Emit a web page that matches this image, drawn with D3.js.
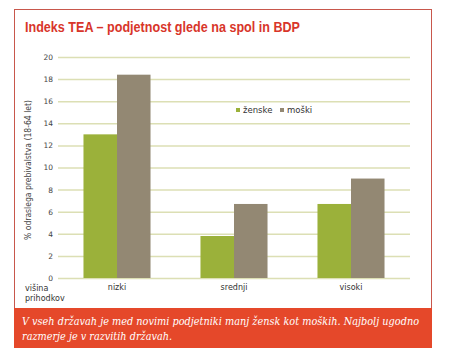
<!DOCTYPE html>
<html><head><meta charset="utf-8">
<script src="https://cdn.jsdelivr.net/npm/d3@7/dist/d3.min.js"></script>
<style>body{margin:0;background:#fff}svg{display:block}</style>
</head><body>
<svg id="c" width="450" height="362"></svg>
<script>
const categories = ["nizki", "srednji", "visoki"];
const seriesNames = ["ženske", "moški"];
const zenske = [13.0, 3.8, 6.7];
const moski = [18.4, 6.7, 9.0];
const yTicks = [0, 2, 4, 6, 8, 10, 12, 14, 16, 18, 20];
const colors = ["#9bb13a", "#938873"];

const svg = d3.select("#c");
// frame
svg.append("rect").attr("x", 14.5).attr("y", 9.5).attr("width", 417).attr("height", 338)
  .attr("fill", "#fff").attr("stroke", "#c8574c").attr("stroke-width", 1);
svg.append("rect").attr("x", 14).attr("y", 308).attr("width", 418).attr("height", 40)
  .attr("fill", "#e5482a");

svg.append("text").attr("x", 25).attr("y", 32)
  .attr("font-family", "'Liberation Sans',Arial,sans-serif")
  .attr("font-weight", "bold").attr("font-size", 15.5).attr("fill", "#d8352a")
  .attr("textLength", 275).attr("lengthAdjust", "spacingAndGlyphs")
  .text("Indeks TEA – podjetnost glede na spol in BDP");

const y = d3.scaleLinear().domain([0, 20]).range([278, 57]);
const x0 = d3.scaleBand().domain(categories).range([58.5, 409.5]).paddingInner(0.427).paddingOuter(0.2135);
const x1 = d3.scaleBand().domain(seriesNames).range([0, x0.bandwidth()]);

const grid = svg.append("g");
grid.selectAll("line").data(yTicks).join("line")
  .attr("x1", 58).attr("x2", 410)
  .attr("y1", d => y(d) + 0.5).attr("y2", d => y(d) + 0.5)
  .attr("stroke", "#dcdfb4").attr("stroke-width", 1.5);

const yAxis = d3.axisLeft(y).tickValues(yTicks).tickSize(0).tickPadding(0);
const ya = svg.append("g").attr("transform", "translate(53,0)").call(yAxis);
ya.select(".domain").remove();
ya.selectAll("text").attr("font-family", "'DejaVu Sans',sans-serif").attr("font-size", 7.5).attr("fill", "#444");

const data = categories.map((c, i) => ({c, vals: [zenske[i], moski[i]]}));
const groups = svg.append("g").selectAll("g").data(data).join("g")
  .attr("transform", d => `translate(${x0(d.c)},0)`);
groups.selectAll("rect").data(d => d.vals.map((v, j) => ({name: seriesNames[j], v, j}))).join("rect")
  .attr("x", d => x1(d.name)).attr("width", x1.bandwidth())
  .attr("y", d => y(d.v)).attr("height", d => y(0) - y(d.v))
  .attr("fill", d => colors[d.j]);

const xAxis = d3.axisBottom(x0).tickSize(0).tickPadding(0);
const xa = svg.append("g").attr("transform", "translate(0,284)").call(xAxis);
xa.select(".domain").remove();
xa.selectAll("text").attr("font-family", "'DejaVu Sans',sans-serif").attr("font-size", 8).attr("fill", "#333");

const small = {"font-family": "'DejaVu Sans',sans-serif", "font-size": 8, "fill": "#333"};
function txt(xp, yp, s, opts = {}) {
  const t = svg.append("text").attr("x", xp).attr("y", yp).text(s);
  Object.entries({...small, ...opts}).forEach(([k, v]) => t.attr(k, v));
  return t;
}
txt(25, 291, "višina");
txt(25, 301, "prihodkov");

svg.append("text").attr("transform", "translate(31,170) rotate(-90)")
  .attr("text-anchor", "middle").attr("font-family", "'DejaVu Sans',sans-serif")
  .attr("font-size", 8).attr("fill", "#444")
  .attr("textLength", 140).attr("lengthAdjust", "spacingAndGlyphs")
  .text("% odraslega prebivalstva (18-64 let)");

// legend
const leg = svg.append("g").attr("transform", "translate(236,108)");
const legX = [0, 44];
seriesNames.forEach((n, i) => {
  leg.append("rect").attr("x", legX[i]).attr("y", 0).attr("width", 4).attr("height", 4).attr("fill", colors[i]);
  leg.append("text").attr("x", legX[i] + 7).attr("y", 5).attr("font-family", "'DejaVu Sans',sans-serif")
    .attr("font-size", 8.5).attr("fill", "#333").text(n);
});

const cap = svg.append("text").attr("font-family", "'DejaVu Serif','Liberation Serif',serif")
  .attr("font-style", "italic").attr("font-size", 10.5).attr("fill", "#fff");
cap.append("tspan").attr("x", 22).attr("y", 325).attr("textLength", 397).attr("lengthAdjust", "spacingAndGlyphs")
  .text("V vseh državah je med novimi podjetniki manj žensk kot moških. Najbolj ugodno");
cap.append("tspan").attr("x", 22).attr("y", 340).attr("textLength", 150).attr("lengthAdjust", "spacingAndGlyphs")
  .text("razmerje je v razvitih državah.");
</script>
</body></html>
